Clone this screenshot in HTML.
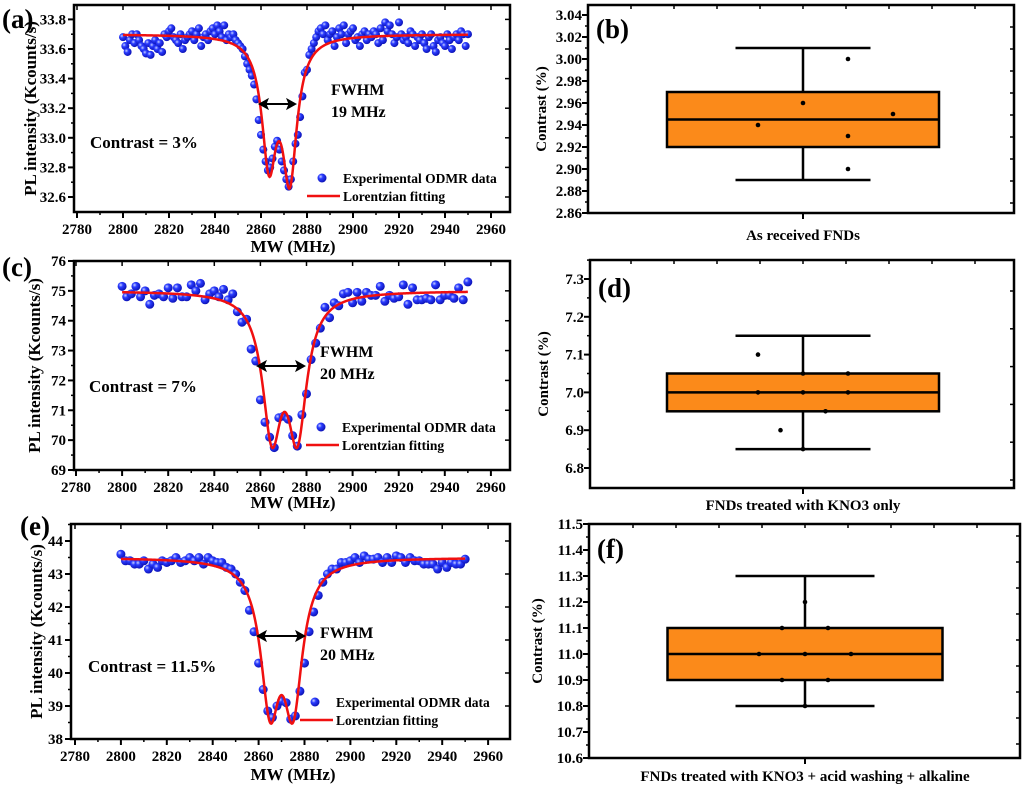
<!DOCTYPE html>
<html><head><meta charset="utf-8">
<style>
html,body{margin:0;padding:0;background:#fff;}
svg, svg text{font-family:"Liberation Serif","DejaVu Serif","Times New Roman",serif;font-weight:bold;}
</style></head>
<body>
<svg id="fig" width="1024" height="786" viewBox="0 0 1024 786" xmlns="http://www.w3.org/2000/svg">
<defs>
<radialGradient id="ball" cx="0.35" cy="0.35" r="0.7">
<stop offset="0" stop-color="#c8d0ff"/><stop offset="0.35" stop-color="#2a3cff"/><stop offset="1" stop-color="#0a0fb0"/>
</radialGradient>
</defs>
</svg>
<script>
// ---------- data ----------
const xTicks = [2780,2800,2820,2840,2860,2880,2900,2920,2940,2960];
const aFreqStart = 2800, aFreqStep = 1;
const aValues = [33.68,33.62,33.58,33.66,33.70,33.64,33.70,33.66,33.62,33.60,33.57,33.64,33.56,33.62,33.66,33.60,33.64,33.58,33.70,33.68,
33.72,33.74,33.68,33.66,33.64,33.70,33.60,33.66,33.68,33.70,33.72,33.66,33.70,33.74,33.62,33.68,33.70,33.66,33.72,33.74,
33.70,33.76,33.72,33.68,33.76,33.66,33.70,33.68,33.70,33.66,
33.64,33.62,33.60,33.55,33.50,33.46,33.42,33.36,33.26,33.12,33.02,32.92,32.84,32.78,32.80,32.86,32.94,32.98,32.92,32.84,
32.78,32.72,32.67,32.72,32.84,32.96,33.02,33.14,33.28,33.44,33.46,33.56,33.60,33.64,33.68,33.72,33.74,33.70,33.76,33.66,
33.70,33.72,33.62,33.68,33.74,33.70,33.76,33.64,33.70,33.72,33.74,33.66,33.68,33.62,33.70,33.72,33.66,33.70,33.68,33.72,
33.70,33.64,33.74,33.66,33.78,33.72,33.76,33.70,33.64,33.68,33.78,33.70,33.66,33.68,33.64,33.72,33.70,33.62,33.68,33.66,
33.70,33.64,33.60,33.68,33.70,33.62,33.58,33.66,33.68,33.64,33.62,33.70,33.66,33.60,33.68,33.70,33.66,33.72,33.70,33.62,33.70];
const aYTicks = [32.6,32.8,33.0,33.2,33.4,33.6,33.8];
const aFit = {base:33.70, centers:[2863.5,2872.5], depths:[0.822,0.917], hwhm:3.8};

const cFreqStart = 2800, cFreqStep = 2;
const cValues = [75.15,74.8,74.9,75.15,74.8,75.0,74.55,74.85,74.9,74.8,75.1,74.75,75.1,74.8,74.8,75.2,75.0,75.25,74.7,74.9,75.0,74.8,75.05,74.7,74.9,
74.3,73.95,74.05,73.05,72.65,71.35,70.6,70.1,69.75,70.75,70.8,70.7,70.15,69.8,70.85,71.55,72.7,73.25,73.75,74.45,74.1,74.6,74.5,74.9,74.95,
74.6,74.95,74.65,74.95,74.85,74.85,75.15,74.65,74.85,74.75,74.8,75.2,74.55,75.1,74.7,74.7,74.75,74.7,75.2,74.7,74.85,74.85,74.75,75.1,74.7,75.3];
const cYTicks = [69,70,71,72,73,74,75,76];
const cFit = {base:75.0, centers:[2865,2876], depths:[4.48,4.48], hwhm:5};

const eFreqStart = 2800, eFreqStep = 2;
const eValues = [43.6,43.4,43.4,43.3,43.3,43.4,43.15,43.3,43.2,43.4,43.35,43.4,43.5,43.35,43.4,43.5,43.4,43.5,43.3,43.5,43.4,43.35,43.35,43.2,43.15,
43.0,42.75,42.5,41.9,41.25,40.3,39.5,38.85,38.65,39.0,39.15,39.1,38.6,38.7,39.45,40.3,41.25,41.85,42.35,42.75,43.0,43.15,43.15,43.35,43.35,
43.4,43.5,43.35,43.55,43.45,43.45,43.5,43.35,43.5,43.35,43.55,43.5,43.35,43.5,43.4,43.4,43.3,43.3,43.3,43.15,43.35,43.2,43.35,43.3,43.3,43.45];
const eYTicks = [38,39,40,41,42,43,44];
const eFit = {base:43.5, centers:[2865,2875], depths:[4.17,4.17], hwhm:5};

const bStats = [2.89,2.92,2.945,2.97,3.01]; // min q1 median q3 max
const bPoints = [2.94,2.96,3.00,2.93,2.90,2.95];
const bPointCols = [1,2,3,3,3,4];
const bYTicks = [2.86,2.88,2.90,2.92,2.94,2.96,2.98,3.00,3.02,3.04];

const dStats = [6.85,6.95,7.00,7.05,7.15];
const dPoints = [7.10,7.00,6.90,7.05,7.00,6.85,6.95,7.05,7.00];
const dPointCols = [1,1,1.5,2,2,2,2.5,3,3];
const dYTicks = [6.8,6.9,7.0,7.1,7.2,7.3];

const fStats = [10.8,10.9,11.0,11.1,11.3];
const fPoints = [11.0,11.1,10.9,11.2,11.0,10.8,11.1,10.9,11.0];
const fPointCols = [1,1.5,1.5,2,2,2,2.5,2.5,3];
const fYTicks = [10.6,10.7,10.8,10.9,11.0,11.1,11.2,11.3,11.4,11.5];

// ---------- drawing ----------
const svg = document.getElementById('fig');
const NS = 'http://www.w3.org/2000/svg';
const FONT = '"Liberation Serif","DejaVu Serif","Times New Roman",serif';
function el(tag, attrs, parent){ const e=document.createElementNS(NS,tag); for(const k in attrs) e.setAttribute(k,attrs[k]); (parent||svg).appendChild(e); return e; }
function txt(s, attrs, parent){ attrs['font-family']=FONT; attrs['font-weight']='bold'; const e=el('text',attrs,parent); e.textContent=s; return e; }

function odmr(cfg){
  const g = el('g',{});
  
  
  const X0=cfg.L, X1=cfg.R, Y0=cfg.T, Y1=cfg.B;
  const xs = v => cfg.xpx0 + (v-2780)*cfg.xk;
  const ys = v => cfg.ypxLow + (v-cfg.yLow)*cfg.yk;
  xTicks.forEach((t,i)=>{
    const x=xs(t);
    el('line',{x1:x,x2:x,y1:Y1,y2:Y1+6,stroke:'#000','stroke-width':2},g);
    el('line',{x1:x,x2:x,y1:Y0,y2:Y0+5,stroke:'#000','stroke-width':1.5},g);
    if(i<xTicks.length-1){ const xm=xs(t+10); el('line',{x1:xm,x2:xm,y1:Y1,y2:Y1+3,stroke:'#000','stroke-width':1.5},g); }
    const lab = txt(String(t),{x:x,y:Y1+22,'text-anchor':'middle','font-size':15},g);
    
    
  });
  const yt = cfg.yTicks, step = yt[1]-yt[0];
  yt.forEach((t,i)=>{
    const y=ys(t);
    el('line',{x1:X0-6,x2:X0,y1:y,y2:y,stroke:'#000','stroke-width':2},g);
    el('line',{x1:X1-5,x2:X1,y1:y,y2:y,stroke:'#000','stroke-width':1.5},g);
    const ym=ys(t+step/2); if(ym>Y0){ el('line',{x1:X0-3,x2:X0,y1:ym,y2:ym,stroke:'#000','stroke-width':1.5},g); }
    const lab = txt(cfg.fmt(t),{x:X0-8,y:y+5,'text-anchor':'end','font-size':15},g);
    
    
  });
  cfg.values.forEach((v,i)=>{
    const c = el('circle',{cx:xs(cfg.f0+i*cfg.fs),cy:ys(v),r:cfg.r,fill:'url(#ball)'},g);
    
    
  });
  const F=cfg.fit; let d='';
  for(let f=2800; f<=2950; f+=0.25){
    let v=F.base; F.centers.forEach((c,k)=>{ v -= F.depths[k]/(1+Math.pow((f-c)/F.hwhm,2)); });
    d += (d?'L':'M')+xs(f).toFixed(2)+','+ys(v).toFixed(2);
  }
  const p=el('path',{d:d,fill:'none',stroke:'#f01010','stroke-width':2.5},g);
  
  
  const fr=el('rect',{x:X0,y:Y0,width:X1-X0,height:Y1-Y0,fill:'none',stroke:'#000','stroke-width':2.5},g);
  
  
  const pl=txt(cfg.panel,{x:cfg.panelX,y:cfg.panelY,'font-size':27},g);
  
  
  const yl=txt('PL intensity (Kcounts/s)',{x:0,y:0,'text-anchor':'middle','font-size':17,transform:`translate(${cfg.ytX},${(Y0+Y1)/2}) rotate(-90)`},g);
  
  
  const xl=txt('MW (MHz)',{x:293,y:cfg.xtY,'text-anchor':'middle','font-size':17},g);
  
  
  const ct=txt(cfg.contrast,{x:cfg.ctX,y:cfg.ctY,'font-size':17},g);
  
  
  const fw=txt('FWHM',{x:cfg.fwX,y:cfg.fwY,'font-size':16},g);
  
  
  const fv=txt(cfg.fwv,{x:cfg.fwX,y:cfg.fwY+22,'font-size':16},g);
  
  
  const ar=el('g',{},g);
  
  
  const a1=cfg.arX1, a2=cfg.arX2, ay=cfg.arY;
  el('line',{x1:a1+5,x2:a2-5,y1:ay,y2:ay,stroke:'#000','stroke-width':2},ar);
  el('path',{d:`M${a1},${ay} l9,-5 l-2,5 l2,5z M${a2},${ay} l-9,-5 l2,5 l-2,5z`,fill:'#000',stroke:'#000','stroke-width':1},ar);
  const lg=el('g',{},g);
  
  
  el('circle',{cx:cfg.lgX+15,cy:cfg.lgY,r:4.5,fill:'url(#ball)'},lg);
  txt('Experimental ODMR data',{x:cfg.lgX+36,y:cfg.lgY+5,'font-size':13.5},lg);
  el('line',{x1:cfg.lgX,x2:cfg.lgX+33,y1:cfg.lgY+18,y2:cfg.lgY+18,stroke:'#f01010','stroke-width':2.5},lg);
  txt('Lorentzian fitting',{x:cfg.lgX+36,y:cfg.lgY+23,'font-size':13.5},lg);
}

function boxplot(cfg){
  const g = el('g',{});
  
  
  const X0=cfg.L, X1=cfg.R, Y0=cfg.T, Y1=cfg.B;
  const ys = v => cfg.ypxLow + (v-cfg.yLow)*cfg.yk;
  const cx=cfg.cx, bw=cfg.bw, cw=cfg.cw, colStep=cfg.colStep;
  const yt=cfg.yTicks, step=yt[1]-yt[0];
  yt.forEach(t=>{
    const y=ys(t);
    el('line',{x1:X0-6,x2:X0,y1:y,y2:y,stroke:'#000','stroke-width':2},g);
    if(y+12<Y1-3 && y+12>Y0+3) el('line',{x1:X1-4,x2:X1,y1:y+12,y2:y+12,stroke:'#000','stroke-width':1.5},g);
    const ym=ys(t+step/2); if(ym>Y0) el('line',{x1:X0-3,x2:X0,y1:ym,y2:ym,stroke:'#000','stroke-width':1.5},g);
    const lab=txt(cfg.fmt(t),{x:X0-6,y:y+5,'text-anchor':'end','font-size':15},g);
    
    
  });
  for(let i=-5;i<=5;i++){ const x=cx+i*43; if(x>X0+5&&x<X1-5) el('line',{x1:x,x2:x,y1:Y0,y2:Y0+4,stroke:'#000','stroke-width':1.5},g); }
  el('line',{x1:cx,x2:cx,y1:Y1,y2:Y1+6,stroke:'#000','stroke-width':2},g);
  const s=cfg.stats;
  const wh=el('g',{},g);
  
  
  el('line',{x1:cx,x2:cx,y1:ys(s[0]),y2:ys(s[4]),stroke:'#000','stroke-width':2.5},wh);
  el('line',{x1:cx-cw*0.5,x2:cx+cw*0.5,y1:ys(s[4]),y2:ys(s[4]),stroke:'#000','stroke-width':2.5},wh);
  el('line',{x1:cx-cw*0.5,x2:cx+cw*0.5,y1:ys(s[0]),y2:ys(s[0]),stroke:'#000','stroke-width':2.5},wh);
  const box=el('rect',{x:cx-bw/2,y:ys(s[3]),width:bw,height:ys(s[1])-ys(s[3]),fill:'#fb8a1a',stroke:'#000','stroke-width':2.5},g);
  
  
  const md=el('line',{x1:cx-bw/2,x2:cx+bw/2,y1:ys(s[2]),y2:ys(s[2]),stroke:'#000','stroke-width':2.5},g);
  
  
  cfg.points.forEach((v,i)=>{
    const c=el('circle',{cx:cx+(cfg.cols[i]-2)*colStep,cy:ys(v),r:2.3,fill:'#000'},g);
    
    
  });
  const fr=el('rect',{x:X0,y:Y0,width:X1-X0,height:Y1-Y0,fill:'none',stroke:'#000','stroke-width':2.5},g);
  
  
  const pl=txt(cfg.panel,{x:X0+8,y:cfg.panelY,'font-size':27},g);
  
  
  const yl=txt('Contrast (%)',{x:0,y:0,'text-anchor':'middle','font-size':15,transform:`translate(${cfg.ytX},${(Y0+Y1)/2}) rotate(-90)`},g);
  
  
  const xl=txt(cfg.xlabel,{x:cx,y:cfg.xlY,'text-anchor':'middle','font-size':15},g);
  
  
}

odmr({name:'panel-a-odmr-chart',L:74,R:510,T:5,B:212,xpx0:77,xk:2.3,yLow:32.6,ypxLow:197,yk:-148,yTicks:aYTicks,fmt:t=>t.toFixed(1),
  values:aValues,f0:aFreqStart,fs:aFreqStep,fit:aFit,r:4,panel:'(a)',panelX:2,panelY:28,ytX:36,xtY:252,
  contrast:'Contrast = 3%',ctX:90,ctY:148,fwX:331,fwY:95,fwv:'19 MHz',arX1:259,arX2:296,arY:104,lgX:307,lgY:178});
odmr({name:'panel-c-odmr-chart',L:74,R:510,T:261,B:470,xpx0:76,xk:2.305,yLow:69,ypxLow:470,yk:-29.86,yTicks:cYTicks,fmt:t=>String(t),
  values:cValues,f0:cFreqStart,fs:cFreqStep,fit:cFit,r:4.5,panel:'(c)',panelX:2,panelY:276,ytX:40,xtY:508,
  contrast:'Contrast = 7%',ctX:89,ctY:392,fwX:320,fwY:357,fwv:'20 MHz',arX1:257,arX2:305,arY:366,lgX:306,lgY:427});
odmr({name:'panel-e-odmr-chart',L:71,R:510,T:524,B:739,xpx0:75,xk:2.295,yLow:38,ypxLow:739,yk:-33,yTicks:eYTicks,fmt:t=>String(t),
  values:eValues,f0:eFreqStart,fs:eFreqStep,fit:eFit,r:4.5,panel:'(e)',panelX:20,panelY:535,ytX:42,xtY:780,
  contrast:'Contrast = 11.5%',ctX:88,ctY:672,fwX:320,fwY:638,fwv:'20 MHz',arX1:257,arX2:305,arY:636,lgX:300,lgY:702});

boxplot({name:'panel-b-box-plot',L:588,R:1014,T:5,B:213,yLow:2.86,ypxLow:213,yk:-1100,yTicks:bYTicks,fmt:t=>t.toFixed(2),
  stats:bStats,points:bPoints,cols:bPointCols,cx:803,bw:272,cw:135,colStep:45,panel:'(b)',panelY:38,ytX:546,xlabel:'As received FNDs',xlY:240});
boxplot({name:'panel-d-box-plot',L:590,R:1014,T:260,B:488,yLow:6.8,ypxLow:468,yk:-378,yTicks:dYTicks,fmt:t=>t.toFixed(1),
  stats:dStats,points:dPoints,cols:dPointCols,cx:803,bw:272,cw:135,colStep:45,panel:'(d)',panelY:297,ytX:548,xlabel:'FNDs treated with KNO3 only',xlY:510});
boxplot({name:'panel-f-box-plot',L:589,R:1020,T:524,B:758,yLow:10.6,ypxLow:758,yk:-260,yTicks:fYTicks,fmt:t=>t.toFixed(1),
  stats:fStats,points:fPoints,cols:fPointCols,cx:805,bw:275,cw:139,colStep:46,panel:'(f)',panelY:558,ytX:542,xlabel:'FNDs treated with KNO3 + acid washing + alkaline',xlY:781});
</script>
</body></html>
